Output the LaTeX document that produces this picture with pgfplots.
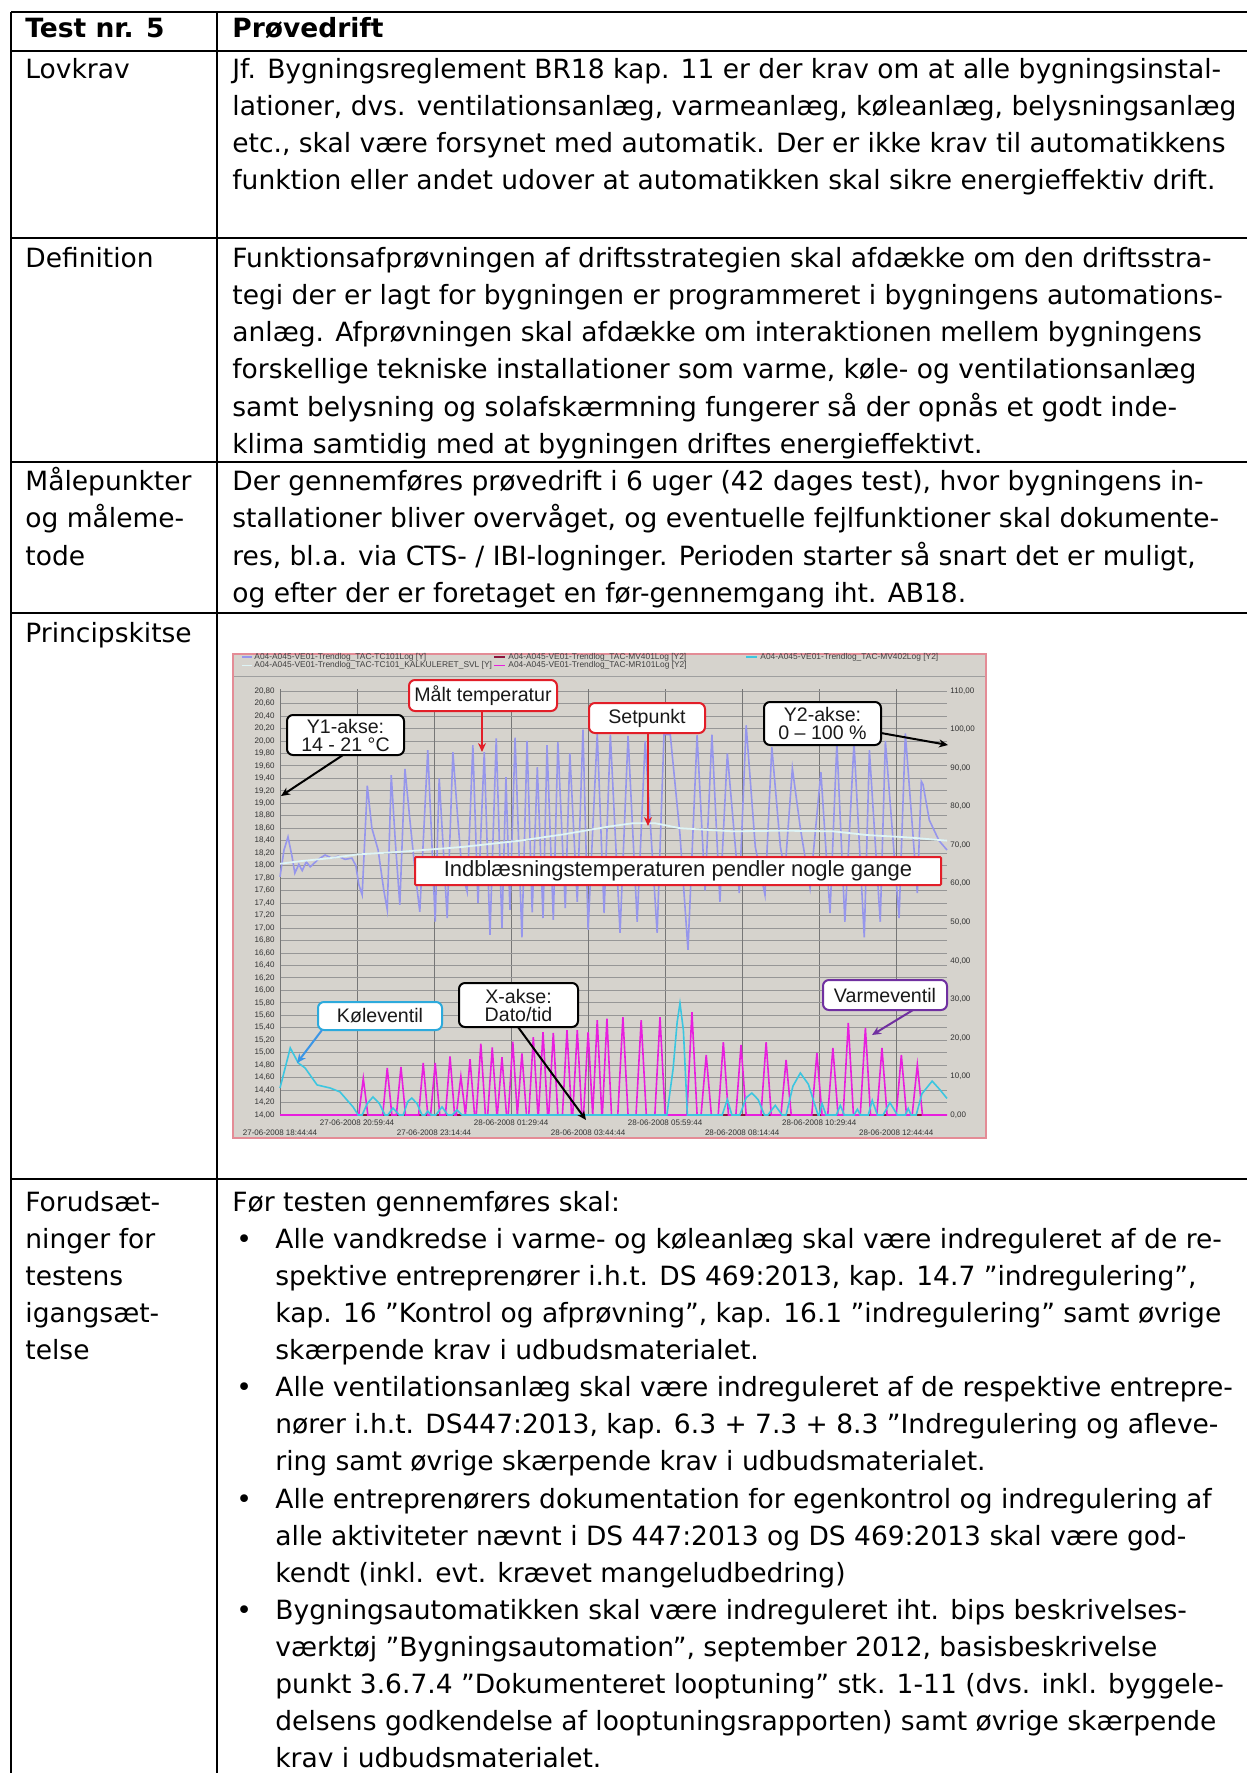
\documentclass[border=0pt]{standalone}
\usepackage{fontspec}
\setmainfont{DejaVu Sans}
\newfontfamily\chartfont{Liberation Sans}
\usepackage{pgfplots}
\pgfplotsset{compat=1.18}
\usetikzlibrary{arrows.meta}

\definecolor{chartbg}{RGB}{214,211,205}
\definecolor{chartborder}{RGB}{228,140,150}
\definecolor{tempcol}{RGB}{150,150,236}
\definecolor{setcol}{RGB}{222,244,246}
\definecolor{magcol}{RGB}{232,30,222}
\definecolor{cyancol}{RGB}{60,198,224}
\definecolor{mvcol}{RGB}{140,20,60}
\definecolor{cred}{RGB}{226,30,40}
\definecolor{cblue}{RGB}{45,170,220}
\definecolor{cpurple}{RGB}{112,48,160}
\definecolor{ablue}{RGB}{60,150,230}

\newcommand\bodyfont{\fontsize{13.25}{16}\selectfont}
\newcommand\TL[3]{\node[anchor=base west,inner sep=0pt,font=\bodyfont] at (#1,-#2) {#3};}
\newcommand\legfont{\chartfont\fontsize{4.2}{4.5}\selectfont}

\pgfplotstableread{
m T
0 17.82
7 18.25
14 18.46
21 18.15
26 17.88
33 18.02
39 17.92
46 18.06
53 17.98
67 18.10
79 18.17
91 18.12
102 18.15
114 18.10
126 18.12
133 18.00
138 17.70
144 17.53
153 19.28
161 18.60
172 18.25
182 17.60
188 17.29
195 19.45
202 18.40
210 17.37
219 19.55
228 18.70
238 17.80
245 17.26
259 19.85
266 18.40
272 17.10
279 19.40
286 18.30
293 17.16
303 19.82
312 18.70
319 17.90
328 17.58
338 19.93
347 17.40
358 19.82
368 16.89
379 20.04
389 17.00
396 19.42
403 17.29
412 20.05
424 16.85
433 20.00
442 17.25
451 19.58
461 17.16
468 19.93
479 17.13
487 19.98
500 17.32
508 19.80
521 17.42
531 20.18
540 16.97
556 20.12
568 17.24
579 20.10
596 16.92
610 20.08
626 17.10
640 20.00
661 16.92
673 20.10
684 20.10
701 18.50
715 16.65
731 20.09
745 17.60
757 20.10
771 17.42
784 19.80
805 17.56
817 20.25
833 18.30
850 17.53
862 19.90
877 18.30
885 17.90
898 19.56
912 18.60
929 17.64
948 19.50
964 17.24
976 19.97
990 17.10
1006 19.97
1024 16.85
1033 19.85
1052 17.10
1061 20.00
1085 17.16
1096 20.12
1117 17.56
1124 19.35
1127 19.30
1138 18.73
1155 18.40
1169 18.25
}\temptable

\pgfplotstableread{
m T
0 18.03
35 18.07
88 18.12
137 18.18
210 18.22
321 18.30
421 18.40
496 18.50
579 18.63
619 18.68
657 18.68
701 18.60
736 18.58
794 18.55
877 18.56
969 18.55
1029 18.49
1087 18.46
1117 18.44
1169 18.40
}\settable

\pgfplotstableread{
m v
0 0
138 0
146 9.5
154 0
180 0
188 12.2
196 0
204 0
212 12.5
220 0
243 0
251 13.5
259 0
264 0
272 13.5
280 0
290 0
298 15.2
306 0
309 0
317 10.0
325 0
333 14.5
341 0
344 0
352 18.5
360 0
364 0
372 17.5
380 0
381 0
389 15.0
397 0
400 0
408 19.0
416 0
424 16.0
432 0
436 0
444 20.2
452 0
453 0
461 21.5
469 0
471 0
479 21.3
487 0
495 0
503 22.0
511 0
513 0
521 22.0
529 0
532 0
540 21.5
548 0
556 24.6
564 0
565 0
573 25.0
581 0
592 0
601 25.4
610 0
624 0
633 24.6
642 0
657 0
666 25.4
675 0
713 0
722 26.7
731 0
738 0
747 15.6
756 0
768 0
777 18.9
786 0
799 0
808 18.2
817 0
843 0
852 18.9
861 0
878 0
887 14.3
896 0
932 0
941 16.1
950 0
960 0
969 17.4
978 0
987 0
996 23.9
1005 0
1017 0
1026 22.6
1035 0
1046 0
1055 17.4
1064 0
1080 0
1089 15.6
1098 0
1108 0
1117 13.0
1126 0
1169 0
}\heattable

\pgfplotstableread{
m v
0 7.0
18 17.4
32 13.5
44 12.2
65 7.8
88 7.0
105 6.0
128 2.1
137 0
144 0
153 3.0
163 4.7
174 3.0
184 0
189 0
198 1.8
209 0
216 0
224 3.5
231 4.4
240 3.0
249 0
254 0
259 1.0
265 0
273 0
284 2.1
294 0
302 0
310 1.3
319 0
678 0
689 12.0
696 24.0
701 29.0
707 22.0
714 0
775 0
784 4.0
792 0
806 0
817 4.5
827 5.7
838 4.0
849 0
855 0
868 2.5
880 0
887 0
899 7.5
912 10.9
926 8.0
943 0
945 0
950 3.0
957 0
975 0
982 2.5
989 0
1006 0
1012 1.5
1017 0
1031 0
1038 3.8
1047 0
1057 0
1069 3.2
1082 0
1096 0
1101 1.7
1106 0
1115 0
1125 5.5
1143 8.8
1157 6.5
1169 4.3
}\cooltable

\begin{document}
\begin{tikzpicture}
\useasboundingbox (0,0) rectangle (623.5pt,-886.5pt);
\clip (0,0) rectangle (623.5pt,-886.5pt);
\fill[white] (0,0) rectangle (623.5pt,-886.5pt);
\begin{scope}[x=0.5pt,y=0.5pt]
% table rules
\foreach \yy in {12,51,238,462,613,1179} {\draw[line width=1pt] (11,-\yy) -- (1262,-\yy);}
\draw[line width=1pt] (11,-12) -- (11,-1790);
\draw[line width=1pt] (217,-12) -- (217,-1790);
% header
\node[anchor=base west,inner sep=0pt,font=\bodyfont\bfseries] at (25,-37) {Test nr. 5};
\node[anchor=base west,inner sep=0pt,font=\bodyfont\bfseries] at (232,-37) {Prøvedrift};
% left column
\TL{25}{78}{Lovkrav}
\TL{25}{267}{Definition}
\TL{25}{490.5}{Målepunkter}
\TL{25}{527.8}{og måleme-}
\TL{25}{565.1}{tode}
\TL{25}{642}{Principskitse}
\TL{25}{1211}{Forudsæt-}
\TL{25}{1248.1}{ninger for}
\TL{25}{1285.3}{testens}
\TL{25}{1322.4}{igangsæt-}
\TL{25}{1359.5}{telse}
% Lovkrav
\TL{232}{78}{Jf. Bygningsreglement BR18 kap. 11 er der krav om at alle bygningsinstal-}
\TL{232}{115.3}{lationer, dvs. ventilationsanlæg, varmeanlæg, køleanlæg, belysningsanlæg}
\TL{232}{152.6}{etc., skal være forsynet med automatik. Der er ikke krav til automatikkens}
\TL{232}{189.9}{funktion eller andet udover at automatikken skal sikre energieffektiv drift.}
% Definition
\TL{232}{267}{Funktionsafprøvningen af driftsstrategien skal afdække om den driftsstra-}
\TL{232}{304.3}{tegi der er lagt for bygningen er programmeret i bygningens automations-}
\TL{232}{341.6}{anlæg. Afprøvningen skal afdække om interaktionen mellem bygningens}
\TL{232}{378.9}{forskellige tekniske installationer som varme, køle- og ventilationsanlæg}
\TL{232}{416.2}{samt belysning og solafskærmning fungerer så der opnås et godt inde-}
\TL{232}{453.5}{klima samtidig med at bygningen driftes energieffektivt.}
% Maalepunkter
\TL{232}{490.5}{Der gennemføres prøvedrift i 6 uger (42 dages test), hvor bygningens in-}
\TL{232}{527.8}{stallationer bliver overvåget, og eventuelle fejlfunktioner skal dokumente-}
\TL{232}{565.1}{res, bl.a. via CTS- / IBI-logninger. Perioden starter så snart det er muligt,}
\TL{232}{602.4}{og efter der er foretaget en før-gennemgang iht. AB18.}
% Forudsaetninger
\TL{232}{1211}{Før testen gennemføres skal:}
\TL{236}{1248.1}{•}
\TL{236}{1396.7}{•}
\TL{236}{1508.1}{•}
\TL{236}{1619.4}{•}
\TL{275}{1248.1}{Alle vandkredse i varme- og køleanlæg skal være indreguleret af de re-}
\TL{275}{1285.3}{spektive entreprenører i.h.t. DS 469:2013, kap. 14.7 ”indregulering”,}
\TL{275}{1322.4}{kap. 16 ”Kontrol og afprøvning”, kap. 16.1 ”indregulering” samt øvrige}
\TL{275}{1359.5}{skærpende krav i udbudsmaterialet.}
\TL{275}{1396.7}{Alle ventilationsanlæg skal være indreguleret af de respektive entrepre-}
\TL{275}{1433.8}{nører i.h.t. DS447:2013, kap. 6.3 + 7.3 + 8.3 ”Indregulering og afleve-}
\TL{275}{1470.9}{ring samt øvrige skærpende krav i udbudsmaterialet.}
\TL{275}{1508.1}{Alle entreprenørers dokumentation for egenkontrol og indregulering af}
\TL{275}{1545.2}{alle aktiviteter nævnt i DS 447:2013 og DS 469:2013 skal være god-}
\TL{275}{1582.3}{kendt (inkl. evt. krævet mangeludbedring)}
\TL{275}{1619.4}{Bygningsautomatikken skal være indreguleret iht. bips beskrivelses-}
\TL{275}{1656.6}{værktøj ”Bygningsautomation”, september 2012, basisbeskrivelse}
\TL{275}{1693.7}{punkt 3.6.7.4 ”Dokumenteret looptuning” stk. 1-11 (dvs. inkl. byggele-}
\TL{275}{1730.8}{delsens godkendelse af looptuningsrapporten) samt øvrige skærpende}
\TL{275}{1767.5}{krav i udbudsmaterialet.}
% chart frame
\filldraw[fill=chartbg, draw=chartborder, line width=0.8pt] (233,-654) rectangle (986,-1138);
\draw[gray!75, line width=0.3pt] (234,-676) -- (985,-676);
% legend
\draw[tempcol, line width=0.7pt] (242,-657) -- (252,-657);
\node[anchor=west,inner sep=0pt,font=\legfont,text=black!75] at (254,-657) {A04-A045-VE01-Trendlog\_TAC-TC101Log [Y]};
\draw[setcol, line width=0.7pt] (242,-665.5) -- (252,-665.5);
\node[anchor=west,inner sep=0pt,font=\legfont,text=black!75] at (254,-665.5) {A04-A045-VE01-Trendlog\_TAC-TC101\_KALKULERET\_SVL [Y]};
\draw[mvcol, line width=0.7pt] (494,-657) -- (505,-657);
\node[anchor=west,inner sep=0pt,font=\legfont,text=black!75] at (508,-657) {A04-A045-VE01-Trendlog\_TAC-MV401Log [Y2]};
\draw[magcol, line width=0.7pt] (494,-665.5) -- (505,-665.5);
\node[anchor=west,inner sep=0pt,font=\legfont,text=black!75] at (508,-665.5) {A04-A045-VE01-Trendlog\_TAC-MR101Log [Y2]};
\draw[cyancol, line width=0.7pt] (746,-657) -- (757,-657);
\node[anchor=west,inner sep=0pt,font=\legfont,text=black!75] at (760,-657) {A04-A045-VE01-Trendlog\_TAC-MV402Log [Y2]};
\end{scope}

% Y1 axis: temperatures
\begin{axis}[
  at={(140pt,-557.5pt)}, anchor=south west,
  scale only axis, width=333.5pt, height=213pt,
  xmin=0, xmax=1169, ymin=14, ymax=20.832,
  axis line style={draw=none},
  major tick length=0pt,
  xtick={135,405,675,945},
  xticklabels={27-06-2008 20:59:44, 28-06-2008 01:29:44, 28-06-2008 05:59:44, 28-06-2008 10:29:44},
  extra x ticks={0,270,540,810,1080},
  extra x tick labels={27-06-2008 18:44:44, 27-06-2008 23:14:44, 28-06-2008 03:44:44, 28-06-2008 08:14:44, 28-06-2008 12:44:44},
  extra x tick style={grid=major, xticklabel style={yshift=-5pt}},
  xticklabel style={anchor=north, inner sep=0pt, yshift=-2pt},
  ytick distance=0.2,
  yticklabel style={anchor=east, inner sep=0pt, xshift=-2.5pt,
    /pgf/number format/fixed, /pgf/number format/fixed zerofill,
    /pgf/number format/precision=2, /pgf/number format/use comma,
    /pgf/number format/assume math mode=true},
  tick label style={font=\chartfont\fontsize{4}{4.5}\selectfont, text=black!80},
  xmajorgrids, ymajorgrids,
  x grid style={draw={rgb,255:red,118;green,118;blue,118}, line width=0.5pt},
  y grid style={draw={rgb,255:red,150;green,150;blue,150}, line width=0.35pt},
  clip=false,
]
\addplot[tempcol, line width=0.8pt] table[x=m, y=T] {\temptable};
\addplot[setcol, line width=0.9pt] table[x=m, y=T] {\settable};
\end{axis}

% Y2 axis: valves
\begin{axis}[
  at={(140pt,-557.5pt)}, anchor=south west,
  scale only axis, width=333.5pt, height=213pt,
  xmin=0, xmax=1169, ymin=0, ymax=110.5,
  axis x line=none, axis y line*=right,
  axis line style={draw=none},
  major tick length=0pt,
  ytick distance=10,
  yticklabel style={anchor=west, inner sep=0pt, xshift=1.5pt,
    font=\chartfont\fontsize{4}{4.5}\selectfont, text=black!80,
    /pgf/number format/fixed, /pgf/number format/fixed zerofill,
    /pgf/number format/precision=2, /pgf/number format/use comma,
    /pgf/number format/assume math mode=true},
  clip=false,
]
\addplot[mvcol, line width=0.8pt] coordinates {(0,0) (1169,0)};
\addplot[magcol, line width=0.8pt] table[x=m, y=v] {\heattable};
\addplot[cyancol, line width=0.8pt] table[x=m, y=v] {\cooltable};
\end{axis}

% callouts
\begin{scope}[x=0.5pt,y=0.5pt,
  callout/.style={draw, line width=1pt, fill=white, rounded corners=3pt, inner sep=0pt, align=center, text=black!90,
    font=\chartfont\fontsize{9.8}{9}\selectfont},
  arr/.style={line width=1pt, -{Stealth[length=4.5pt,width=4pt]}}]
\node[callout, draw=cred, minimum width=74pt, minimum height=15.5pt] at (483,-695.5) {Målt temperatur};
\draw[arr, cred] (482,-711) -- (482,-752);
\node[callout, draw=cred, minimum width=58pt, minimum height=15pt] at (647,-718) {Setpunkt};
\draw[arr, cred] (648,-733) -- (648,-826);
\node[callout, draw=black, minimum width=58.5pt, minimum height=20pt] at (345.5,-735) {Y1-akse:\\14 - 21 °C};
\draw[arr, black] (343,-755) -- (281,-796);
\node[callout, draw=black, minimum width=58.5pt, minimum height=21.5pt] at (822.5,-723.5) {Y2-akse:\\0 – 100 \%};
\draw[arr, black] (881,-733) -- (948,-745);
\node[callout, draw=cred, rounded corners=0.5pt, minimum width=263pt, minimum height=14pt, font=\chartfont\fontsize{11}{11}\selectfont] at (678,-871) {Indblæsningstemperaturen pendler nogle gange};
\node[callout, draw=cblue, minimum width=62pt, minimum height=14pt] at (380,-1016) {Køleventil};
\draw[arr, ablue] (322,-1030) -- (297,-1063);
\node[callout, draw=black, minimum width=59.5pt, minimum height=22pt] at (518.5,-1005) {X-akse:\\Dato/tid};
\draw[arr, black] (518,-1027) -- (586,-1120);
\node[callout, draw=cpurple, minimum width=62pt, minimum height=15pt] at (885,-995) {Varmeventil};
\draw[arr, cpurple] (913,-1010) -- (872,-1035);
\end{scope}
\end{tikzpicture}
\end{document}
